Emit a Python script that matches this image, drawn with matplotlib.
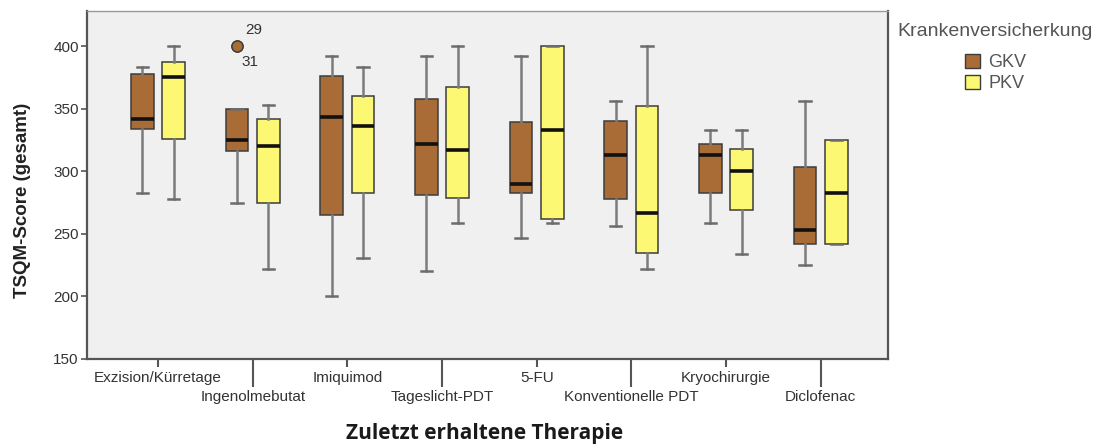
import matplotlib
matplotlib.use("Agg")
import matplotlib.pyplot as plt
from matplotlib.patches import Patch

# Treatment groups on the x axis
categories = ["Exzision/Kürretage", "Ingenolmebutat", "Imiquimod", "Tageslicht-PDT",
              "5-FU", "Konventionelle PDT", "Kryochirurgie", "Diclofenac"]

# GKV (statutory insurance) box statistics per treatment
gkv_whislo = [283, 275, 200, 220, 247, 256, 259, 225]
gkv_q1 = [334, 316, 265, 281, 283, 278, 283, 242]
gkv_med = [342, 325, 343, 322, 290, 313, 313, 253]
gkv_q3 = [378, 350, 376, 358, 339, 340, 322, 303]
gkv_whishi = [383, 350, 392, 392, 392, 356, 333, 356]

# PKV (private insurance) box statistics per treatment
pkv_whislo = [278, 222, 231, 259, 259, 222, 234, 242]
pkv_q1 = [326, 275, 283, 279, 262, 235, 269, 242]
pkv_med = [375, 320, 336, 317, 333, 267, 300, 283]
pkv_q3 = [387, 342, 360, 367, 400, 352, 318, 325]
pkv_whishi = [400, 353, 383, 400, 400, 400, 333, 325]

# Outliers: (treatment index, value, case number) for the GKV group
gkv_outliers = [(1, 400, "29"), (1, 400, "31")]

groups = ["GKV", "PKV"]
colors = ["#AA6C37", "#FCF873"]

plt.rcParams["font.family"] = ["Liberation Sans", "DejaVu Sans"]

fig = plt.figure(figsize=(10.98, 4.45), dpi=100)
fig.patch.set_facecolor("white")
ax = fig.add_axes([87 / 1098, 1 - 359 / 445, (888 - 87) / 1098, (359 - 11) / 445])
ax.set_facecolor("#F0F0F0")


def make_stats(whislo, q1, med, q3, whishi, fliers_by_idx):
    stats = []
    for i in range(len(med)):
        stats.append(dict(whislo=whislo[i], q1=q1[i], med=med[i], q3=q3[i],
                          whishi=whishi[i], fliers=fliers_by_idx.get(i, [])))
    return stats


gkv_fliers = {}
for idx, val, _ in gkv_outliers:
    gkv_fliers.setdefault(idx, []).append(val)

series = [
    make_stats(gkv_whislo, gkv_q1, gkv_med, gkv_q3, gkv_whishi, gkv_fliers),
    make_stats(pkv_whislo, pkv_q1, pkv_med, pkv_q3, pkv_whishi, {}),
]

offset = 0.166
for k, (stats, col) in enumerate(zip(series, colors)):
    pos = [i + (offset if k else -offset) for i in range(len(categories))]
    ax.bxp(stats, positions=pos, widths=0.24, capwidths=0.12, patch_artist=True,
           showfliers=True, manage_ticks=False,
           boxprops=dict(facecolor=col, edgecolor="#3c3c3c", linewidth=1.1),
           medianprops=dict(color="#111111", linewidth=2.6, solid_capstyle="butt"),
           whiskerprops=dict(color="#7c7c7c", linewidth=1.8),
           capprops=dict(color="#6c6c6c", linewidth=1.8),
           flierprops=dict(marker="o", markerfacecolor=col, markeredgecolor="#3c3c3c",
                           markersize=8, markeredgewidth=1.0))

# Case-number labels next to the outlier
for n, (idx, val, lab) in enumerate(gkv_outliers):
    dy = 11.5 if n == 0 else -11.5
    ax.annotate(lab, (idx - offset, val), xytext=(12 if n == 0 else 9, dy),
                textcoords="offset points", ha="center", va="center",
                fontsize=11, color="#333333")

ax.set_xlim(-0.75, 7.71)
ax.set_ylim(150, 428)
ax.set_yticks([150, 200, 250, 300, 350, 400])
ax.tick_params(axis="y", length=4.5, width=1.2, color="#555555", labelsize=11,
               labelcolor="#333333", pad=1.5)

# Staggered category labels: even positions on the first row, odd ones below
major_pos = list(range(0, len(categories), 2))
minor_pos = list(range(1, len(categories), 2))
ax.set_xticks(major_pos, [categories[i] for i in major_pos])
ax.set_xticks(minor_pos, [categories[i] for i in minor_pos], minor=True)
ax.tick_params(axis="x", which="major", length=5.8, width=1.5, color="#555555",
               labelsize=11, labelcolor="#333333", pad=2.5)
ax.tick_params(axis="x", which="minor", length=20, width=1.5, color="#555555",
               labelsize=11, labelcolor="#333333", pad=2.5)

for side in ["left", "bottom", "top", "right"]:
    ax.spines[side].set_color("#555555")
    ax.spines[side].set_linewidth(1.6)
ax.spines["top"].set_color("#999999")
ax.spines["top"].set_linewidth(1.0)

fig.text(23 / 1098, 1 - 200 / 445, "TSQM-Score (gesamt)", rotation=90,
         ha="center", va="center", fontsize=13.5, fontweight="bold", color="#222222")
fig.text(485 / 1098, 1 - 434 / 445, "Zuletzt erhaltene Therapie", ha="center",
         va="center", fontsize=15, fontweight="bold", color="#1a1a1a",
         family=["Open Sans", "DejaVu Sans"])

# Legend
fig.text(995 / 1098, 1 - 32 / 445, "Krankenversicherkung", ha="center", va="center",
         fontsize=14, color="#555555")
handles = [Patch(facecolor=c, edgecolor="#3c3c3c", linewidth=1.0, label=g)
           for g, c in zip(groups, colors)]
fig.legend(handles=handles, loc="upper left", bbox_to_anchor=(965 / 1098, 1 - 54 / 445),
           frameon=False, fontsize=13, handlelength=0.83, handleheight=0.83,
           handletextpad=0.45, labelspacing=0.2, borderpad=0, borderaxespad=0,
           labelcolor="#555555")

fig.savefig("out.png", dpi=100, facecolor="white")
